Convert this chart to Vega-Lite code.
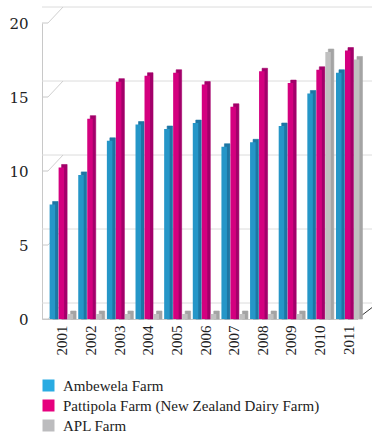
{
  "$schema": "https://vega.github.io/schema/vega-lite/v6.json",
  "width": 315,
  "height": 296,
  "autosize": {"type": "none"},
  "padding": {"left": 42, "top": 23, "right": 15, "bottom": 115},
  "background": "white",
  "config": {"view": {"stroke": null}, "font": "Liberation Serif"},
  "datasets": {
    "production": [
      {"year": "2001", "farm": "Ambewela Farm", "value": 7.4},
      {"year": "2002", "farm": "Ambewela Farm", "value": 9.4},
      {"year": "2003", "farm": "Ambewela Farm", "value": 11.7},
      {"year": "2004", "farm": "Ambewela Farm", "value": 12.8},
      {"year": "2005", "farm": "Ambewela Farm", "value": 12.5},
      {"year": "2006", "farm": "Ambewela Farm", "value": 12.9},
      {"year": "2007", "farm": "Ambewela Farm", "value": 11.3},
      {"year": "2008", "farm": "Ambewela Farm", "value": 11.6},
      {"year": "2009", "farm": "Ambewela Farm", "value": 12.7},
      {"year": "2010", "farm": "Ambewela Farm", "value": 14.9},
      {"year": "2011", "farm": "Ambewela Farm", "value": 16.3},
      {"year": "2001", "farm": "Pattipola Farm (New Zealand Dairy Farm)", "value": 9.9},
      {"year": "2002", "farm": "Pattipola Farm (New Zealand Dairy Farm)", "value": 13.2},
      {"year": "2003", "farm": "Pattipola Farm (New Zealand Dairy Farm)", "value": 15.7},
      {"year": "2004", "farm": "Pattipola Farm (New Zealand Dairy Farm)", "value": 16.1},
      {"year": "2005", "farm": "Pattipola Farm (New Zealand Dairy Farm)", "value": 16.3},
      {"year": "2006", "farm": "Pattipola Farm (New Zealand Dairy Farm)", "value": 15.5},
      {"year": "2007", "farm": "Pattipola Farm (New Zealand Dairy Farm)", "value": 14.0},
      {"year": "2008", "farm": "Pattipola Farm (New Zealand Dairy Farm)", "value": 16.4},
      {"year": "2009", "farm": "Pattipola Farm (New Zealand Dairy Farm)", "value": 15.6},
      {"year": "2010", "farm": "Pattipola Farm (New Zealand Dairy Farm)", "value": 16.5},
      {"year": "2011", "farm": "Pattipola Farm (New Zealand Dairy Farm)", "value": 17.8},
      {"year": "2001", "farm": "APL Farm", "value": 0},
      {"year": "2002", "farm": "APL Farm", "value": 0},
      {"year": "2003", "farm": "APL Farm", "value": 0},
      {"year": "2004", "farm": "APL Farm", "value": 0},
      {"year": "2005", "farm": "APL Farm", "value": 0},
      {"year": "2006", "farm": "APL Farm", "value": 0},
      {"year": "2007", "farm": "APL Farm", "value": 0},
      {"year": "2008", "farm": "APL Farm", "value": 0},
      {"year": "2009", "farm": "APL Farm", "value": 0},
      {"year": "2010", "farm": "APL Farm", "value": 17.7},
      {"year": "2011", "farm": "APL Farm", "value": 17.2}
    ],
    "levels": [
      {"value": 0}, {"value": 5}, {"value": 10}, {"value": 15}, {"value": 20}
    ]
  },
  "encoding": {
    "y": {
      "field": "value",
      "type": "quantitative",
      "stack": null,
      "scale": {"domain": [0, 20], "nice": false, "zero": true},
      "axis": {
        "title": null,
        "values": [0, 5, 10, 15, 20],
        "grid": false,
        "ticks": false,
        "labelFont": "DejaVu Serif",
        "labelFontSize": 15,
        "labelColor": "#222222",
        "labelPadding": 14,
        "domainColor": "#c8c8c8"
      }
    }
  },
  "layer": [
    {
      "data": {"name": "levels"},
      "mark": {"type": "rule", "color": "#dcdcdc", "xOffset": 21, "x2Offset": 15, "yOffset": -16}
    },
    {
      "data": {"name": "levels"},
      "mark": {"type": "rule", "color": "#d0d0d0", "y2Offset": -16},
      "encoding": {
        "y2": {"field": "value"},
        "x": {"value": 6},
        "x2": {"value": 21}
      }
    },
    {
      "data": {"name": "levels"},
      "mark": {"type": "rule", "color": "#c8c8c8"},
      "encoding": {
        "x": {"value": 0},
        "x2": {"value": 6}
      }
    },
    {
      "data": {"name": "levels"},
      "transform": [{"filter": "datum.value == 0"}],
      "mark": {"type": "rule", "color": "#333333", "y2Offset": -16},
      "encoding": {
        "y2": {"field": "value"},
        "x": {"value": 315},
        "x2": {"value": 336}
      }
    },
    {
      "data": {"name": "production"},
      "mark": {"type": "bar", "width": 5.5, "yOffset": -8, "y2Offset": -5, "strokeWidth": 0.6},
      "encoding": {
        "x": {
          "field": "year", "type": "nominal",
          "scale": {"paddingInner": 0.06, "paddingOuter": 0.03},
          "axis": {"title": null, "labelAngle": 270, "labelFont": "Liberation Serif", "labelFontSize": 15, "labelColor": "#222222", "labelPadding": 6, "labelOffset": 6, "ticks": false, "grid": false, "domainColor": "#c8c8c8"}
        },
        "xOffset": {"field": "farm", "sort": ["Ambewela Farm", "Pattipola Farm (New Zealand Dairy Farm)", "APL Farm"], "scale": {"range": [8, 35], "paddingInner": 0}},
        "color": {
          "field": "farm", "type": "nominal",
          "scale": {"domain": ["Ambewela Farm", "Pattipola Farm (New Zealand Dairy Farm)", "APL Farm"], "range": ["#1d76a4", "#a3006a", "#a4a4a4"]},
          "legend": null
        },
        "stroke": {
          "field": "farm", "type": "nominal",
          "scale": {"domain": ["Ambewela Farm", "Pattipola Farm (New Zealand Dairy Farm)", "APL Farm"], "range": ["#1d76a4", "#a3006a", "#a4a4a4"]},
          "legend": null
        }
      }
    },
    {
      "data": {"name": "production"},
      "mark": {"type": "bar", "width": 5.5, "yOffset": -5, "y2Offset": -5},
      "encoding": {
        "x": {
          "field": "year", "type": "nominal",
          "scale": {"paddingInner": 0.06, "paddingOuter": 0.03},
          "axis": {"title": null, "labelAngle": 270, "labelFont": "Liberation Serif", "labelFontSize": 15, "labelColor": "#222222", "labelPadding": 6, "labelOffset": 6, "ticks": false, "grid": false, "domainColor": "#c8c8c8"}
        },
        "xOffset": {"field": "farm", "sort": ["Ambewela Farm", "Pattipola Farm (New Zealand Dairy Farm)", "APL Farm"], "scale": {"range": [5, 32], "paddingInner": 0}},
        "color": {
          "field": "farm", "type": "nominal",
          "scale": {"domain": ["Ambewela Farm", "Pattipola Farm (New Zealand Dairy Farm)", "APL Farm"], "range": ["#2596c8", "#d4007f", "#c0c0c0"]},
          "legend": null
        }
      }
    },
    {
      "data": {"name": "production"},
      "mark": {"type": "square", "opacity": 0},
      "encoding": {
        "x": {
          "field": "year", "type": "nominal",
          "scale": {"paddingInner": 0.06, "paddingOuter": 0.03},
          "axis": {"title": null, "labelAngle": 270, "labelFont": "Liberation Serif", "labelFontSize": 15, "labelColor": "#222222", "labelPadding": 6, "labelOffset": 6, "ticks": false, "grid": false, "domainColor": "#c8c8c8"}
        },
        "color": {
          "field": "farm", "type": "nominal",
          "scale": {"domain": ["Ambewela Farm", "Pattipola Farm (New Zealand Dairy Farm)", "APL Farm"], "range": ["#29abe2", "#e6007e", "#bcbcbe"]},
          "legend": {
            "title": null,
            "orient": "none",
            "legendX": -1,
            "legendY": 355,
            "symbolType": "square",
            "symbolSize": 144,
            "symbolOpacity": 1,
            "symbolStrokeWidth": 0,
            "labelFont": "Liberation Serif",
            "labelFontSize": 15,
            "labelColor": "#222222",
            "labelOffset": 7,
            "labelLimit": 400,
            "rowPadding": 4
          }
        }
      }
    }
  ],
  "resolve": {"scale": {"color": "independent", "stroke": "independent", "xOffset": "independent"}}
}
